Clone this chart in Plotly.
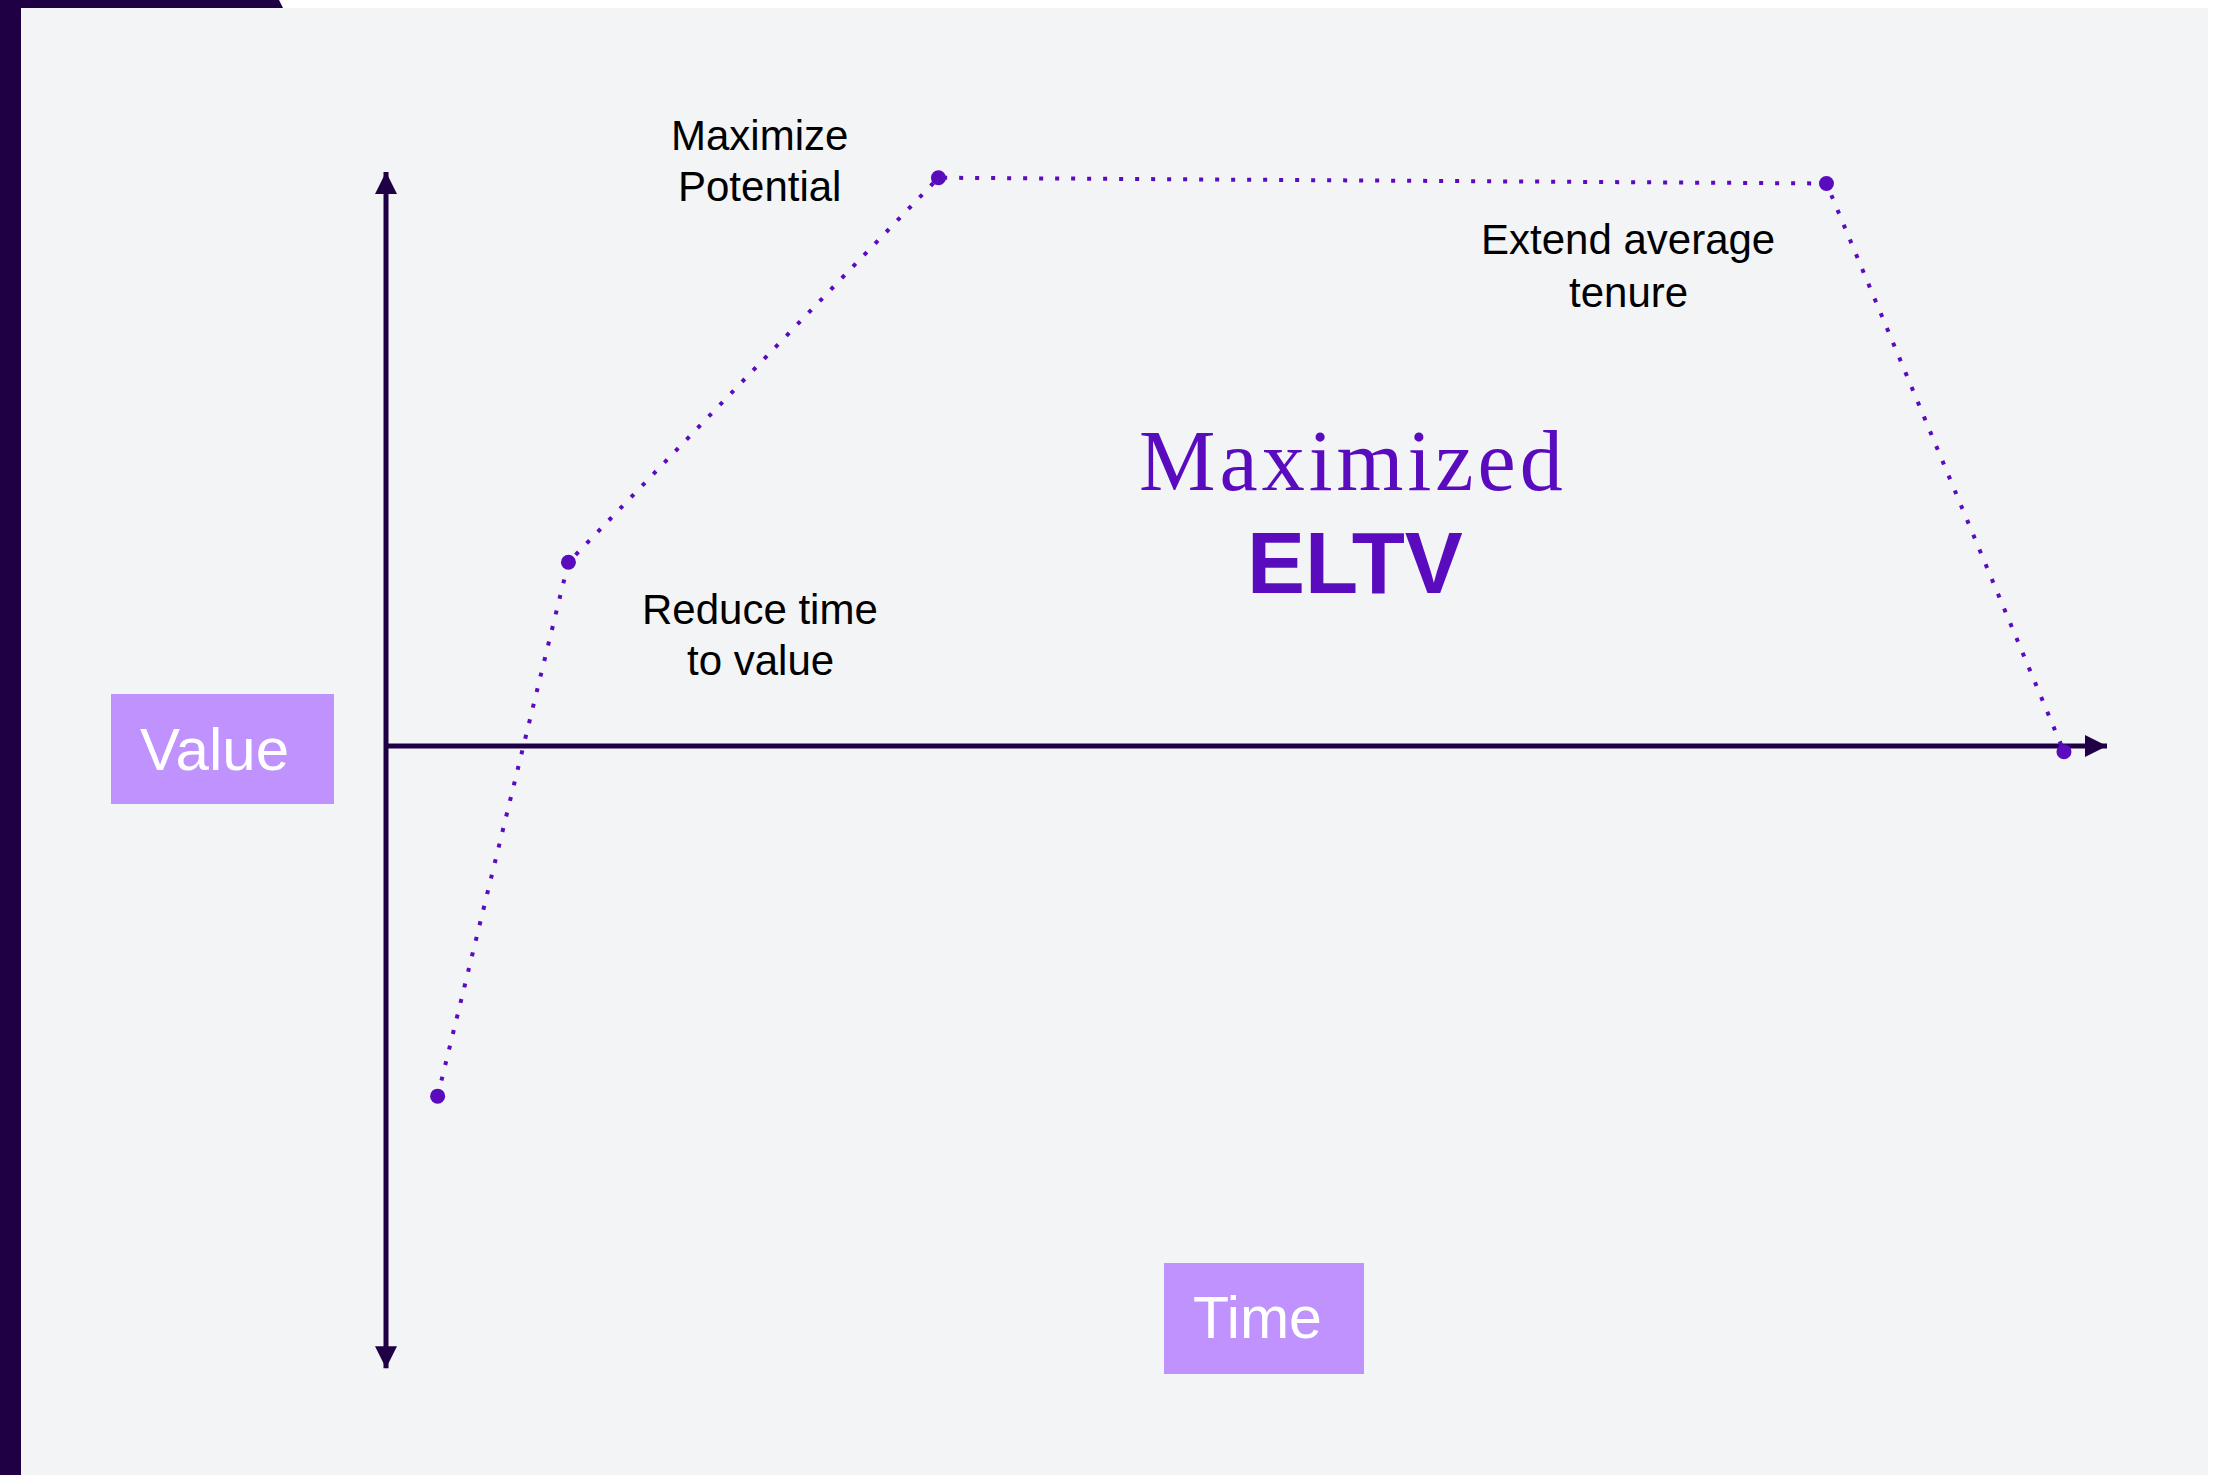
import plotly.graph_objects as go

# ---- data (abstract units: time 0..10 along the time axis, value 0 at the time axis, 100 at the top of the value axis)
stage_names = ["Start", "Onboarded", "Peak", "Peak end", "Exit"]
time_vals = [0.30, 1.06, 3.21, 8.37, 9.75]
value_vals = [-61.0, 32.0, 99.0, 98.0, -1.0]

axis_time_max = 10.0
axis_value_top = 100.0
axis_value_bottom = -108.4

label_lines = [["Maximize", "Potential"], ["Reduce time", "to value"], ["Extend average", "tenure"]]
title_line1 = "Maximized"
title_line2 = "ELTV"
axis_box_labels = ["Value", "Time"]

# ---- layout geometry (pixels)
W, H = 2225, 1475
X0_PX, X_PER = 386.0, 172.1     # time 0 at x px 386, px per time unit
Y0_PX, Y_PER = 746.0, 5.74      # value 0 at y px 746, px per value unit


def px(x, y):
    return x / W, 1 - y / H


x_range = [(0 - X0_PX) / X_PER, (W - X0_PX) / X_PER]
y_range = [-(H - Y0_PX) / Y_PER, Y0_PX / Y_PER]

DARK = "#1f0044"
PURPLE = "#5a0bbe"
BOX = "#c092fd"
BG = "#f3f4f6"

fig = go.Figure()

# axes lines
fig.add_trace(go.Scatter(x=[0, 0], y=[axis_value_bottom, axis_value_top], mode="lines",
                         line=dict(color=DARK, width=5), hoverinfo="skip", showlegend=False))
fig.add_trace(go.Scatter(x=[0, axis_time_max], y=[0, 0], mode="lines",
                         line=dict(color=DARK, width=5), hoverinfo="skip", showlegend=False))
# arrow heads
fig.add_trace(go.Scatter(x=[0, 0, axis_time_max], y=[axis_value_top, axis_value_bottom, 0], mode="markers",
                         marker=dict(symbol=["arrow-up", "arrow-down", "arrow-right"], size=22, color=DARK,
                                     line=dict(width=0)),
                         hoverinfo="skip", showlegend=False))

# dotted curve
fig.add_trace(go.Scatter(x=time_vals, y=value_vals, mode="lines",
                         line=dict(color=PURPLE, width=4, dash="4px,12px"),
                         hoverinfo="skip", showlegend=False))
fig.add_trace(go.Scatter(x=time_vals, y=value_vals, mode="markers", text=stage_names,
                         marker=dict(color=PURPLE, size=15, line=dict(width=0)),
                         hoverinfo="text", showlegend=False))

shapes = []
# background panel
x1, y1 = px(21, 8)
x2, y2 = px(2208, H)
shapes.append(dict(type="rect", xref="paper", yref="paper", x0=x1, y0=y2, x1=x2, y1=y1,
                   fillcolor=BG, line=dict(width=0), layer="below"))
# left dark bar
a, b = px(0, 0)
c, d = px(21, H)
shapes.append(dict(type="rect", xref="paper", yref="paper", x0=a, y0=d, x1=c, y1=b,
                   fillcolor=DARK, line=dict(width=0), layer="below"))
# top dark strip with slanted end
p0 = px(0, 0); p1 = px(279, 0); p2 = px(283, 8); p3 = px(0, 8)
path = f"M {p0[0]},{p0[1]} L {p1[0]},{p1[1]} L {p2[0]},{p2[1]} L {p3[0]},{p3[1]} Z"
shapes.append(dict(type="path", xref="paper", yref="paper", path=path,
                   fillcolor=DARK, line=dict(width=0), layer="below"))
# label boxes
for (bx0, by0, bx1, by1) in [(111, 694, 334, 804), (1164, 1263, 1364, 1374)]:
    q0 = px(bx0, by1); q1 = px(bx1, by0)
    shapes.append(dict(type="rect", xref="paper", yref="paper", x0=q0[0], y0=q0[1], x1=q1[0], y1=q1[1],
                       fillcolor=BOX, line=dict(width=0), layer="below"))

annotations = []
SANS = "Liberation Sans, Arial, sans-serif"
label_pos = [(759, (135, 186)), (760, (610, 660)), (1628, (240, 292))]
for lines, (lx, lys) in zip(label_lines, label_pos):
    for t, ly in zip(lines, lys):
        ax_, ay_ = px(lx, ly)
        annotations.append(dict(text=t, x=ax_, y=ay_, xref="paper", yref="paper", showarrow=False,
                                xanchor="center", yanchor="middle", align="center",
                                font=dict(family=SANS, size=42, color="#000000")))

for t, (lx, ly), fs in zip(axis_box_labels, [(214, 749), (1257, 1318)], [60, 59]):
    ax_, ay_ = px(lx, ly)
    annotations.append(dict(text=t, x=ax_, y=ay_, xref="paper", yref="paper", showarrow=False,
                            xanchor="center", yanchor="middle",
                            font=dict(family=SANS, size=fs, color="#ffffff")))

ax_, ay_ = px(1353, 461)
annotations.append(dict(text=f"<span style='letter-spacing:4px'>{title_line1}</span>", x=ax_, y=ay_,
                        xref="paper", yref="paper", showarrow=False, xanchor="center", yanchor="middle",
                        font=dict(family="Liberation Serif, Times New Roman, serif", size=86, color=PURPLE)))
ax_, ay_ = px(1355, 562)
annotations.append(dict(text=f"<b>{title_line2}</b>", x=ax_, y=ay_,
                        xref="paper", yref="paper", showarrow=False, xanchor="center", yanchor="middle",
                        font=dict(family=SANS, size=87, color=PURPLE)))

fig.update_layout(
    width=W, height=H,
    margin=dict(l=0, r=0, t=0, b=0, pad=0),
    paper_bgcolor="#ffffff", plot_bgcolor="rgba(0,0,0,0)",
    xaxis=dict(range=x_range, visible=False, fixedrange=True),
    yaxis=dict(range=y_range, visible=False, fixedrange=True),
    shapes=shapes, annotations=annotations, showlegend=False,
)

fig.write_html("out.html")
